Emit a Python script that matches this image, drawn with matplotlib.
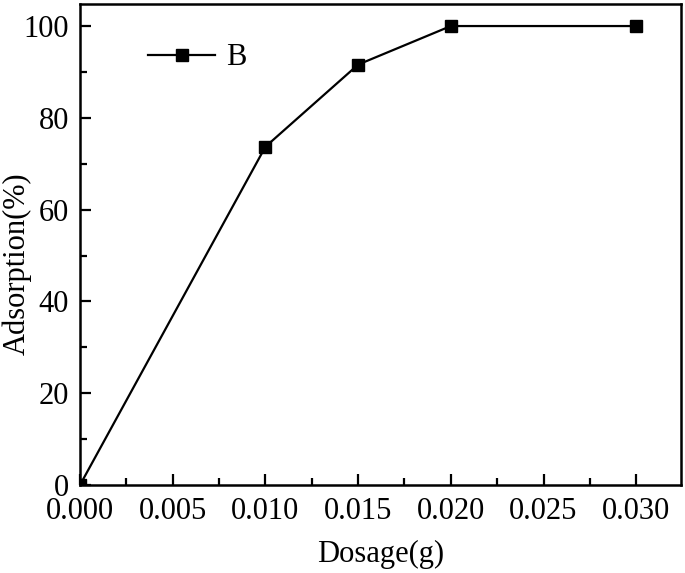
import matplotlib
matplotlib.use('Agg')
import matplotlib.pyplot as plt
from matplotlib.ticker import MultipleLocator

dosage = [0.000, 0.010, 0.015, 0.020, 0.030]
adsorption = [0.0, 73.7, 91.6, 100.0, 100.0]
series_name = 'B'

plt.rcParams['font.family'] = 'Liberation Serif'
plt.rcParams['font.size'] = 22

fig = plt.figure(figsize=(6.85, 5.73), dpi=100)
ax = fig.add_axes([0.1168, 0.1536, 0.877, 0.8394])

ax.plot(dosage, adsorption, color='black', lw=1.6, marker='s', ms=8.3,
        label=series_name)

ax.set_xlim(0, 0.0324)
ax.set_ylim(0, 104.8)
ax.xaxis.set_major_locator(MultipleLocator(0.005))
ax.xaxis.set_minor_locator(MultipleLocator(0.0025))
ax.yaxis.set_major_locator(MultipleLocator(20))
ax.yaxis.set_minor_locator(MultipleLocator(10))
ax.xaxis.set_major_formatter(plt.FormatStrFormatter('%.3f'))

ax.tick_params(which='both', direction='in', width=1.6, top=False, right=False)
ax.tick_params(which='major', length=8)
ax.tick_params(which='minor', length=5)
ax.tick_params(axis='x', which='major', pad=9)
ax.tick_params(axis='y', which='major', pad=8)
for s in ax.spines.values():
    s.set_linewidth(1.8)

ax.set_xlabel('Dosage(g)')
ax.set_ylabel('Adsorption(%)')
ax.xaxis.set_label_coords(0.5, -0.114)
ax.yaxis.set_label_coords(-0.08, 0.46)

ax.legend(loc='center left', bbox_to_anchor=(0.113, 0.888), frameon=False,
          handlelength=2.2, handletextpad=0.35, borderaxespad=0, borderpad=0)

fig.savefig('out.png', dpi=100)
